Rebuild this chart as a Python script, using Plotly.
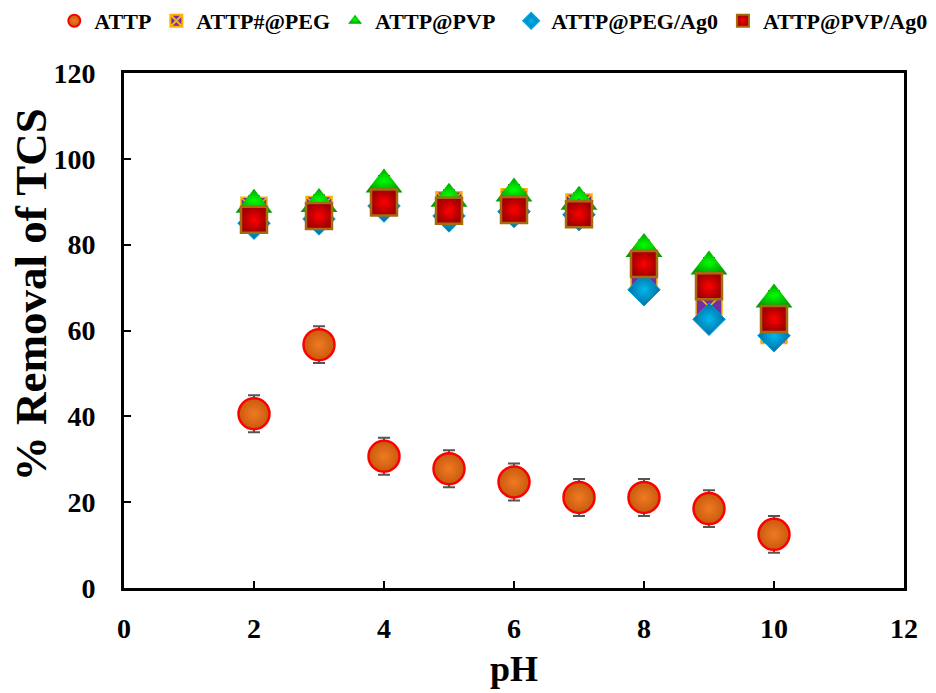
import plotly.graph_objects as go

ph = [2, 3, 4, 5, 6, 7, 8, 9, 10]

attp = [40.6, 56.7, 30.7, 27.8, 24.7, 21.1, 21.1, 18.5, 12.5]
attp_err = [4.3, 4.3, 4.3, 4.3, 4.3, 4.3, 4.3, 4.3, 4.3]

attp_peg = [88.0, 88.2, 90.5, 89.3, 90.0, 88.8, 72.0, 65.5, 60.0]
attp_pvp = [89.3, 89.5, 94.0, 90.7, 91.9, 90.0, 79.0, 74.9, 67.2]
attp_peg_ag = [85.0, 86.0, 89.0, 86.7, 87.7, 87.0, 69.5, 62.6, 58.8]
attp_pvp_ag = [85.8, 86.7, 89.8, 87.9, 88.1, 87.1, 75.5, 70.3, 62.7]
other_err = [2.0, 2.0, 2.0, 2.0, 2.0, 2.0, 2.0, 2.0, 2.0]

names = ["ATTP", "ATTP#@PEG", "ATTP@PVP", "ATTP@PEG/Ag0", "ATTP@PVP/Ag0"]

FONT = "Liberation Serif"
err_style = dict(type="data", thickness=2, width=6, color="#555555")

fig = go.Figure()

fig.add_trace(go.Scatter(
    x=ph, y=attp, mode="markers", name=names[0], legend="legend",
    error_y=dict(array=attp_err, **err_style),
    marker=dict(symbol="circle", size=31, color="#C85A0E",
                gradient=dict(type="radial", color="#F07A22"),
                line=dict(color="#FF0000", width=2.5)),
))
fig.add_trace(go.Scatter(
    x=ph, y=attp_peg, mode="markers", name=names[1], legend="legend",
    error_y=dict(array=other_err, **err_style),
    marker=dict(symbol="square-x", size=26, color="#7030A0",
                line=dict(color="#FFB000", width=1.5)),
))
fig.add_trace(go.Scatter(
    x=ph, y=attp_pvp, mode="markers", name=names[2], legend="legend",
    error_y=dict(array=other_err, **err_style),
    marker=dict(symbol="triangle-up", size=32, color="#00A000",
                gradient=dict(type="radial", color="#00FF00"),
                line=dict(color="#00E000", width=0)),
))
fig.add_trace(go.Scatter(
    x=ph, y=attp_peg_ag, mode="markers", name=names[3], legend="legend2",
    error_y=dict(array=other_err, **err_style),
    marker=dict(symbol="diamond", size=25, color="#0070A0",
                gradient=dict(type="radial", color="#00B8F0"),
                line=dict(color="#00A0E0", width=1)),
))
fig.add_trace(go.Scatter(
    x=ph, y=attp_pvp_ag, mode="markers", name=names[4], legend="legend2",
    error_y=dict(array=other_err, **err_style),
    marker=dict(symbol="square", size=26, color="#A00000",
                gradient=dict(type="radial", color="#FF0000"),
                line=dict(color="#A66A10", width=2.5)),
))

axis_common = dict(
    showline=True, linecolor="black", linewidth=3, mirror=True,
    ticks="inside", ticklen=7, tickwidth=2, tickcolor="black",
    showgrid=False, zeroline=False,
    tickfont=dict(family=FONT, size=28, color="black", weight="bold"),
)

fig.update_xaxes(
    range=[0, 12], tickvals=[0, 2, 4, 6, 8, 10, 12],
    title=dict(text="<b>pH</b>", font=dict(family=FONT, size=36, color="black"), standoff=14),
    ticklabelstandoff=13,
    **axis_common,
)
fig.update_yaxes(
    range=[0, 120], tickvals=[0, 20, 40, 60, 80, 100, 120],
    ticklabelstandoff=20,
    **axis_common,
)

fig.add_annotation(
    text="<b>% Removal of TCS</b>", textangle=-90,
    xref="paper", yref="paper", x=-0.119, y=0.569,
    xanchor="center", yanchor="middle", showarrow=False,
    font=dict(family=FONT, size=45, color="black"),
)

legend_common = dict(
    orientation="h", xref="container", yref="container",
    y=1.0, yanchor="top",
    font=dict(family=FONT, size=22, color="black", weight="bold"),
    bgcolor="rgba(0,0,0,0)", itemsizing="constant",
    tracegroupgap=0, itemwidth=30,
)

fig.update_layout(
    width=936, height=693,
    margin=dict(l=124, r=32, t=73, b=105, autoexpand=False),
    paper_bgcolor="white", plot_bgcolor="white",
    showlegend=True,
    legend=dict(x=0.058, xanchor="left", **legend_common),
    legend2=dict(x=0.997, xanchor="right", **legend_common),
)

fig.write_html("out.html")
